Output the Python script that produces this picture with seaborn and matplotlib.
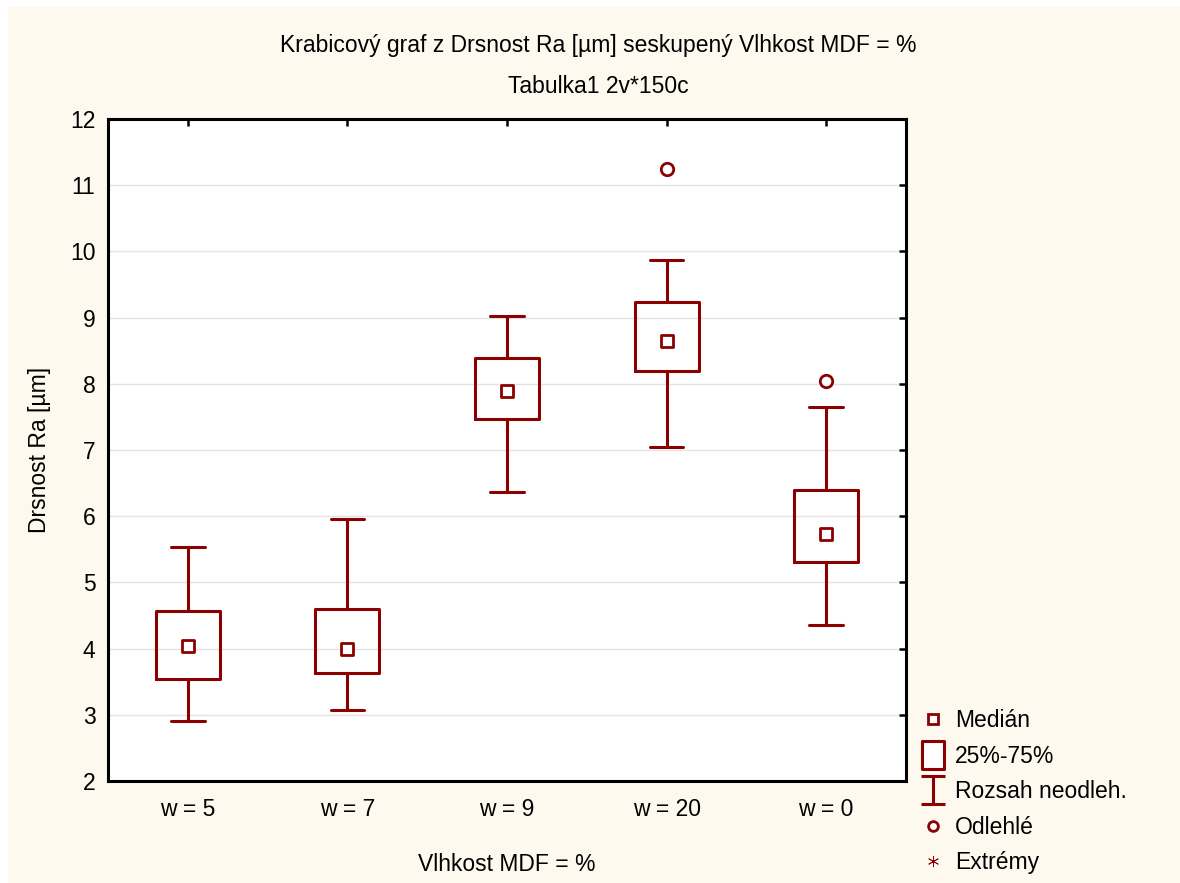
import numpy as np
import pandas as pd
import seaborn as sns
import matplotlib
matplotlib.use("Agg")
import matplotlib.pyplot as plt
from matplotlib.lines import Line2D
from matplotlib.path import Path
from matplotlib.patches import Rectangle

# ---- data ----
groups = ["w = 5", "w = 7", "w = 9", "w = 20", "w = 0"]
whisker_low = [2.90, 3.07, 6.37, 7.04, 4.36]
q1 = [3.54, 3.63, 7.47, 8.19, 5.31]
median = [4.04, 4.00, 7.89, 8.65, 5.73]
q3 = [4.57, 4.60, 8.39, 9.23, 6.40]
whisker_high = [5.54, 5.96, 9.02, 9.87, 7.65]
outlier_group = ["w = 20", "w = 0"]
outlier_value = [11.25, 8.04]
yticks = [2, 3, 4, 5, 6, 7, 8, 9, 10, 11, 12]

title1 = "Krabicový graf z Drsnost Ra [µm] seskupený Vlhkost MDF = %"
title2 = "Tabulka1 2v*150c"
xlabel = "Vlhkost MDF = %"
ylabel = "Drsnost Ra [µm]"
legend_labels = ["Medián", "25%-75%", "Rozsah neodleh.", "Odlehlé", "Extrémy"]

RED = "#8B0000"
BG = "#FDF9EE"
FS = 16.5

sns.set_theme(style="white")
plt.rcParams["font.family"] = ["Liberation Sans", "DejaVu Sans"]
plt.rcParams["text.color"] = "black"
plt.rcParams["axes.labelcolor"] = "black"
plt.rcParams["xtick.color"] = "black"
plt.rcParams["ytick.color"] = "black"

fig = plt.figure(figsize=(11.8, 8.83), dpi=100, facecolor=BG)
fig.add_artist(Rectangle((0, 1 - 7 / 883), 1, 7 / 883, transform=fig.transFigure,
                         facecolor="white", edgecolor="none", zorder=-10))
fig.add_artist(Rectangle((0, 0), 8 / 1180, 1, transform=fig.transFigure,
                         facecolor="white", edgecolor="none", zorder=-10))
ax = fig.add_axes([0.0915, 0.1155, 0.6763, 0.7497])
ax.set_facecolor("white")

stats = []
for i, g in enumerate(groups):
    stats.append(dict(label=g, whislo=whisker_low[i], q1=q1[i], med=median[i],
                      q3=q3[i], whishi=whisker_high[i], fliers=[]))
pos = np.arange(len(groups))
ax.bxp(stats, positions=pos, widths=0.4, capwidths=0.21, showfliers=False,
       boxprops=dict(color=RED, linewidth=2.2),
       whiskerprops=dict(color=RED, linewidth=2.2),
       capprops=dict(color=RED, linewidth=2.2),
       medianprops=dict(linewidth=0))

xmap = {g: i for i, g in enumerate(groups)}
med_df = pd.DataFrame({"group": groups, "value": median})
med_df["x"] = med_df["group"].map(xmap)
sns.scatterplot(data=med_df, x="x", y="value", marker="s", s=70,
                facecolor="white", edgecolor=RED, linewidth=2.0, ax=ax, zorder=5)
out_df = pd.DataFrame({"group": outlier_group, "value": outlier_value})
out_df["x"] = out_df["group"].map(xmap)
sns.scatterplot(data=out_df, x="x", y="value", marker="o", s=80,
                facecolor="white", edgecolor=RED, linewidth=2.0, ax=ax, zorder=5)

ax.set_xlim(-0.5, len(groups) - 0.5)
ax.set_ylim(2, 12)
ax.set_xticks(pos)
ax.set_xticklabels(groups)
ax.set_yticks(yticks)
ax.set_yticklabels([str(t) for t in yticks])
ax.yaxis.grid(True, color="#E3E3E3", linewidth=1.0)
ax.set_axisbelow(True)
ax.tick_params(direction="in", top=True, right=True, length=5, width=1.8,
               labelsize=FS, colors="black")
ax.tick_params(axis="x", pad=12)
ax.tick_params(axis="y", pad=9)
for sp in ax.spines.values():
    sp.set_color("black")
    sp.set_linewidth(2.2)
    sp.set_visible(True)
ax.set_xlabel(xlabel, fontsize=FS, labelpad=23)
ax.set_ylabel(ylabel, fontsize=FS, labelpad=14)

fig.text(0.507, 0.949, title1, ha="center", va="center", fontsize=FS)
fig.text(0.507, 0.902, title2, ha="center", va="center", fontsize=FS)

ibeam = Path([(-0.43, 0.5), (0.43, 0.5), (0, 0.5), (0, -0.5), (-0.43, -0.5), (0.43, -0.5)],
             [Path.MOVETO, Path.LINETO, Path.MOVETO, Path.LINETO, Path.MOVETO, Path.LINETO])
rect = Path([(-0.41, -0.5), (0.41, -0.5), (0.41, 0.5), (-0.41, 0.5), (-0.41, -0.5)],
            [Path.MOVETO, Path.LINETO, Path.LINETO, Path.LINETO, Path.CLOSEPOLY])
handles = [
    Line2D([], [], linestyle="none", marker="s", markersize=7, markerfacecolor="white",
           markeredgecolor=RED, markeredgewidth=2.0),
    Line2D([], [], linestyle="none", marker=rect, markersize=20, markerfacecolor="white",
           markeredgecolor=RED, markeredgewidth=2.2),
    Line2D([], [], linestyle="none", marker=ibeam, markersize=20, markerfacecolor="none",
           markeredgecolor=RED, markeredgewidth=2.2),
    Line2D([], [], linestyle="none", marker="o", markersize=7, markerfacecolor="white",
           markeredgecolor=RED, markeredgewidth=2.0),
    Line2D([], [], linestyle="none", marker=(6, 2, 0), markersize=8, markerfacecolor=RED,
           markeredgecolor=RED, markeredgewidth=0.6),
]
fig.legend(handles, legend_labels, loc="lower left", bbox_to_anchor=(0.7635, -0.011),
           frameon=False, fontsize=FS, labelspacing=0.55, handlelength=1.2,
           handletextpad=0.35, borderpad=0.3)

fig.savefig("out.png", dpi=100, facecolor=BG)
